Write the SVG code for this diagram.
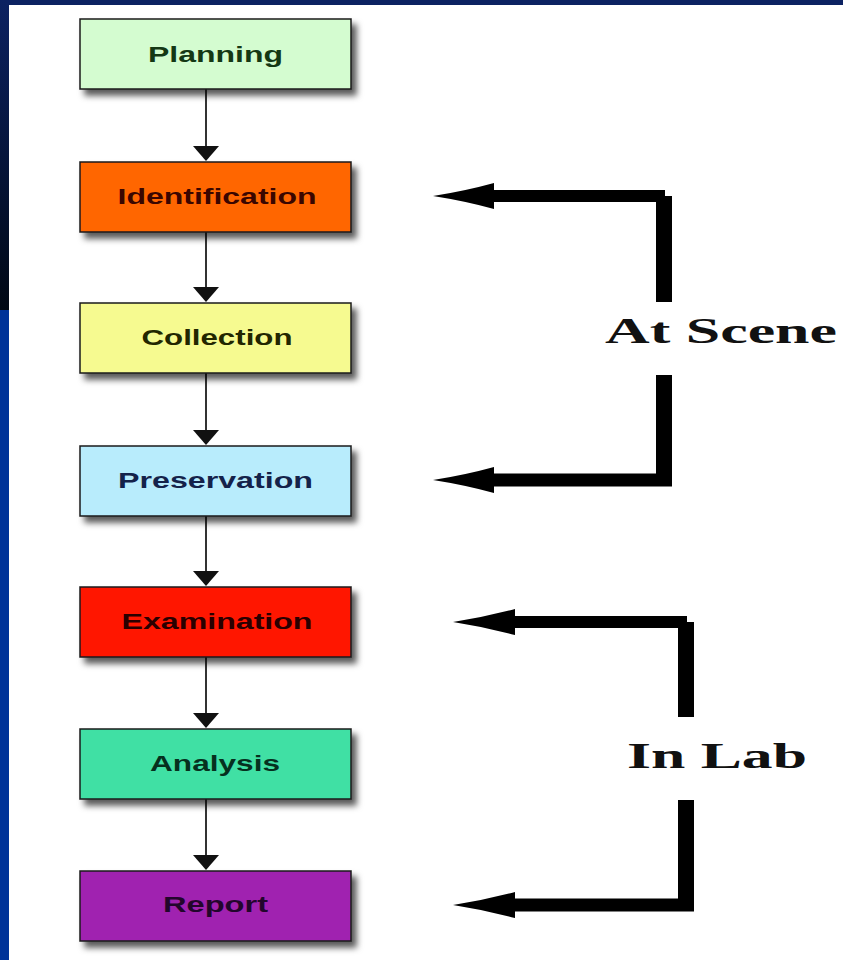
<svg xmlns="http://www.w3.org/2000/svg" width="843" height="960" viewBox="0 0 843 960">
<defs>
<linearGradient id="darkStrip" x1="0" y1="0" x2="0" y2="1">
<stop offset="0" stop-color="#0c2262"/>
<stop offset="1" stop-color="#000814"/>
</linearGradient>
<filter id="shadow" x="-10%" y="-20%" width="130%" height="160%">
<feDropShadow dx="5" dy="6" stdDeviation="3" flood-color="#000" flood-opacity="0.65"/>
</filter>
<style>
.box{stroke:#1a1a1a;stroke-width:1.5;filter:url(#shadow)}
.lbl{font-family:"Liberation Sans",Arial,sans-serif;font-weight:bold;font-size:22px;text-anchor:middle}
.flow{stroke:#333;stroke-width:2;fill:none}
.head{fill:#111}
.big{stroke:#000;fill:none;stroke-linecap:butt}
.bighead{fill:#000}
.side{font-family:"Liberation Serif","Times New Roman",serif;font-weight:bold;font-size:35px;fill:#111}
</style>
</defs>
<rect x="0" y="0" width="843" height="960" fill="#ffffff"/>
<rect x="0" y="0" width="843" height="5" fill="#0c2262"/>
<rect x="0" y="0" width="9" height="310" fill="url(#darkStrip)"/>
<rect x="0" y="310" width="9" height="650" fill="#003399"/>

<g id="connectors">
<line class="flow" x1="206" y1="89" x2="206" y2="148"/>
<polygon class="head" points="193,146 219,146 206,161"/>
<line class="flow" x1="206" y1="232" x2="206" y2="289"/>
<polygon class="head" points="193,287 219,287 206,302"/>
<line class="flow" x1="206" y1="373" x2="206" y2="432"/>
<polygon class="head" points="193,430 219,430 206,445"/>
<line class="flow" x1="206" y1="516" x2="206" y2="573"/>
<polygon class="head" points="193,571 219,571 206,586"/>
<line class="flow" x1="206" y1="657" x2="206" y2="715"/>
<polygon class="head" points="193,713 219,713 206,728"/>
<line class="flow" x1="206" y1="799" x2="206" y2="857"/>
<polygon class="head" points="193,855 219,855 206,870"/>

<g id="at-scene-bracket">
<line class="big" x1="490" y1="196" x2="665" y2="196" stroke-width="12"/>
<line class="big" x1="664" y1="196" x2="664" y2="302" stroke-width="16"/>
<line class="big" x1="664" y1="375" x2="664" y2="486" stroke-width="16"/>
<line class="big" x1="490" y1="480" x2="672" y2="480" stroke-width="13"/>
<path class="bighead" d="M433,196 Q465,191 494,183 L494,209 Q465,201 433,196 Z"/>
<path class="bighead" d="M433,480 Q465,475 494,467 L494,493 Q465,485 433,480 Z"/>
</g>
<g id="in-lab-bracket">
<line class="big" x1="512" y1="622" x2="687" y2="622" stroke-width="12"/>
<line class="big" x1="686" y1="622" x2="686" y2="717" stroke-width="16"/>
<line class="big" x1="686" y1="800" x2="686" y2="911" stroke-width="16"/>
<line class="big" x1="512" y1="905" x2="694" y2="905" stroke-width="13"/>
<path class="bighead" d="M453,622 Q485,617 515,609 L515,635 Q485,627 453,622 Z"/>
<path class="bighead" d="M453,905 Q485,900 515,892 L515,918 Q485,910 453,905 Z"/>
</g>
</g>

<g id="planning">
<rect class="box" x="80" y="19" width="271" height="70" fill="#d4fcd0"/>
<text class="lbl" x="215.5" y="62" fill="#143814" textLength="135" lengthAdjust="spacingAndGlyphs">Planning</text>
</g>
<g id="identification">
<rect class="box" x="80" y="162" width="271" height="70" fill="#ff6600"/>
<text class="lbl" x="217" y="204" fill="#3a0600" textLength="199" lengthAdjust="spacingAndGlyphs">Identification</text>
</g>
<g id="collection">
<rect class="box" x="80" y="303" width="271" height="70" fill="#f6fa90"/>
<text class="lbl" x="217" y="345" fill="#222600" textLength="151" lengthAdjust="spacingAndGlyphs">Collection</text>
</g>
<g id="preservation">
<rect class="box" x="80" y="446" width="271" height="70" fill="#b8ecfc"/>
<text class="lbl" x="215.5" y="488" fill="#14224a" textLength="195" lengthAdjust="spacingAndGlyphs">Preservation</text>
</g>
<g id="examination">
<rect class="box" x="80" y="587" width="271" height="70" fill="#ff1800"/>
<text class="lbl" x="217" y="629" fill="#2a0000" textLength="191" lengthAdjust="spacingAndGlyphs">Examination</text>
</g>
<g id="analysis">
<rect class="box" x="80" y="729" width="271" height="70" fill="#40e0a4"/>
<text class="lbl" x="215" y="771" fill="#06301e" textLength="130" lengthAdjust="spacingAndGlyphs">Analysis</text>
</g>
<g id="report">
<rect class="box" x="80" y="871" width="271" height="70" fill="#a020b0"/>
<text class="lbl" x="215.5" y="912" fill="#22062c" textLength="105" lengthAdjust="spacingAndGlyphs">Report</text>
</g>

<g id="labels">
<text class="side" x="605" y="343" textLength="232" lengthAdjust="spacingAndGlyphs">At Scene</text>
<text class="side" x="627" y="768" textLength="180" lengthAdjust="spacingAndGlyphs">In Lab</text>
</g>
</svg>
